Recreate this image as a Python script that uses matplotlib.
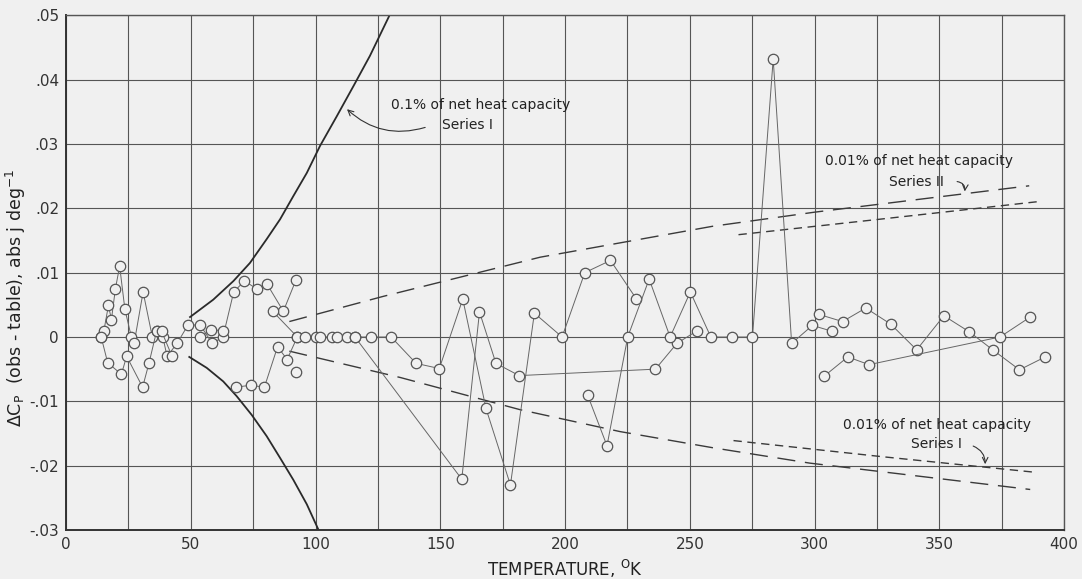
import matplotlib

matplotlib.use("Agg")
import matplotlib.pyplot as plt
from matplotlib.ticker import MultipleLocator

# observed - table deviations, one list per connected run (T in K)
run1_t = [14.1, 15.2, 17.0, 18.2, 19.8, 21.5, 23.6, 26.2, 27.3, 30.9, 34.6, 36.3, 38.8, 40.5,
          44.5, 48.8, 53.7, 58.6, 62.9, 67.2, 71.5, 76.4, 80.6, 87.1, 92.2]
run1_y = [0, .001, .0049, .0027, .0075, .011, .0043, 0, -.001, .007, 0, .0009, 0, -.003,
          -.001, .0018, .0019, -.001, 0, .007, .0087, .0075, .0082, .004, .0089]
run2_t = [14.1, 16.7, 22.2, 24.3, 30.7, 33.3, 36.3, 38.3, 42.5]
run2_y = [0, -.004, -.0058, -.003, -.0078, -.004, .0009, .0009, -.003]
run3_t = [53.7, 58.0, 62.9]
run3_y = [0, .0011, .001]
run4_t = [68.0, 74.0, 79.5, 84.8, 88.6, 92.7]
run4_y = [-.0078, -.0075, -.0078, -.0015, -.0035, 0]
run5_t = [82.8, 92.7, 95.8, 100.2, 101.8, 106.7, 108.6, 112.6, 115.8, 122.2, 130.3, 140.3,
          149.6, 159.0, 168.3, 178.1, 187.7, 198.8, 207.9, 218.2, 228.6]
run5_y = [.004, 0, 0, 0, 0, 0, 0, 0, 0, 0, 0, -.0041,
          -.0049, .0059, -.0111, -.023, .0037, 0, .01, .0119, .0059]
run6_t = [115.8, 158.6, 165.7, 172.3, 181.6, 236.2, 244.8, 253.0]
run6_y = [0, -.0221, .0039, -.0041, -.006, -.005, -.001, .001]
run7_t = [209.0, 216.8, 225.1, 233.7, 242.1, 250.2, 258.4, 266.8, 275.1, 283.4, 290.8,
          299.1, 306.9]
run7_y = [-.009, -.0169, 0, .009, 0, .007, 0, 0, 0, .0432, -.001, .0018, .0009]
run8_t = [301.8, 311.2, 320.5, 330.5, 340.9, 351.8, 362.0, 371.4, 382.1, 392.4]
run8_y = [.0035, .0024, .0045, .002, -.002, .0033, .0008, -.002, -.0051, -.0031]
run9_t = [303.8, 313.3, 321.8, 374.3, 386.4]
run9_y = [-.0061, -.0031, -.0043, 0, .0031]
lone_t = [92.0]
lone_y = [-.0055]

# 0.1 % of net heat capacity, series I (solid)
pct1_up_t = [49.7, 59.0, 67.1, 73.7, 80.4, 85.8, 91.1, 96.5, 101.8, 108.5, 115.2, 121.8, 129.9]
pct1_up_y = [.0031, .0058, .0087, .0115, .0152, .0183, .0219, .0255, .0297, .0343, .0390,
             .0437, .0502]
pct1_lo_t = [49.4, 56.4, 63.0, 68.4, 74.4, 80.4, 85.8, 91.1, 96.5, 101.1]
pct1_lo_y = [-.0031, -.0048, -.0069, -.0092, -.0121, -.0154, -.0188, -.0222, -.026, -.0299]

# 0.01 % of net heat capacity
s1_up_t = [89.5, 127.0, 190.0, 259.0, 300.0, 386.0]
s1_up_y = [.0024, .0063, .0124, .0172, .0194, .0235]
s1_lo_t = [89.5, 134.0, 182.0, 222.0, 259.0, 298.0, 386.4]
s1_lo_y = [-.0022, -.0063, -.0113, -.0147, -.0172, -.0196, -.0237]
s2_up_t = [269.5, 326.0, 391.0]
s2_up_y = [.0159, .0183, .0211]
s2_lo_t = [267.5, 327.0, 387.7]
s2_lo_y = [-.0161, -.0186, -.021]

yticks = [-.03, -.02, -.01, 0, .01, .02, .03, .04, .05]
ytick_labels = ["-.03", "-.02", "-.01", "0", ".01", ".02", ".03", ".04", ".05"]
xticks = [0, 50, 100, 150, 200, 250, 300, 350, 400]

bg = "#f0f0f0"
ink = "#3a3a3a"

fig = plt.figure(figsize=(10.82, 5.79), dpi=100, facecolor=bg)
ax = fig.add_axes([0.061, 0.0846, 0.9225, 0.889], facecolor=bg)

ax.set_xlim(0, 400)
ax.set_ylim(-0.03, 0.05)
ax.set_xticks(xticks)
ax.xaxis.set_minor_locator(MultipleLocator(25))
ax.set_yticks(yticks)
ax.set_yticklabels(ytick_labels)
ax.tick_params(which="both", length=0, labelsize=11, colors="#333333", pad=5)
ax.grid(True, which="both", color="#555555", linewidth=0.8)
ax.set_axisbelow(True)
for side in ["left", "bottom"]:
    ax.spines[side].set_linewidth(1.4)
    ax.spines[side].set_color("#333333")
for side in ["right", "top"]:
    ax.spines[side].set_linewidth(1.0)
    ax.spines[side].set_color("#555555")

ax.plot(pct1_up_t, pct1_up_y, color="#2a2a2a", lw=1.3)
ax.plot(pct1_lo_t, pct1_lo_y, color="#2a2a2a", lw=1.3)
ax.plot(s1_up_t, s1_up_y, color=ink, lw=1.0, dashes=(13, 7))
ax.plot(s1_lo_t, s1_lo_y, color=ink, lw=1.0, dashes=(13, 7))
ax.plot(s2_up_t, s2_up_y, color=ink, lw=1.0, dashes=(6, 4))
ax.plot(s2_lo_t, s2_lo_y, color=ink, lw=1.0, dashes=(6, 4))

runs = [(run1_t, run1_y), (run2_t, run2_y), (run3_t, run3_y), (run4_t, run4_y),
        (run5_t, run5_y), (run6_t, run6_y), (run7_t, run7_y), (run8_t, run8_y),
        (run9_t, run9_y), (lone_t, lone_y)]
for t, y in runs:
    ax.plot(t, y, "-o", color="#666666", lw=0.7, ms=7.5, mfc=bg, mec="#555555", mew=0.9, zorder=3)

txt = dict(fontsize=10, color="#222222", ha="center", va="center")
ax.text(166, 0.0361, "0.1% of net heat capacity", **txt)
ax.text(161, 0.0329, "Series I", **txt)
ax.annotate("", xy=(111.8, 0.0357), xytext=(145, 0.0327),
            arrowprops=dict(arrowstyle="->", color="#333333", lw=0.8,
                            connectionstyle="arc3,rad=-0.3"))
ax.text(342, 0.0273, "0.01% of net heat capacity", **txt)
ax.text(340.7, 0.0241, "Series II", **txt)
ax.annotate("", xy=(360, 0.0222), xytext=(356, 0.0242),
            arrowprops=dict(arrowstyle="->", color="#333333", lw=0.8,
                            connectionstyle="arc3,rad=-0.6"))
ax.text(349, -0.0137, "0.01% of net heat capacity", **txt)
ax.text(349, -0.0167, "Series I", **txt)
ax.annotate("", xy=(368.3, -0.0202), xytext=(362.5, -0.0168),
            arrowprops=dict(arrowstyle="->", color="#333333", lw=0.8,
                            connectionstyle="arc3,rad=-0.4"))

ax.set_xlabel(r"TEMPERATURE, $^{\mathrm{O}}$K", fontsize=12, color="#222222", labelpad=4)
ax.set_ylabel(r"$\Delta$C$_{\mathrm{P}}$  (obs - table), abs j deg$^{-1}$",
              fontsize=12.5, color="#222222")
ax.yaxis.set_label_coords(-0.038, 0.45)

fig.savefig("out.png", dpi=100, facecolor=bg)
